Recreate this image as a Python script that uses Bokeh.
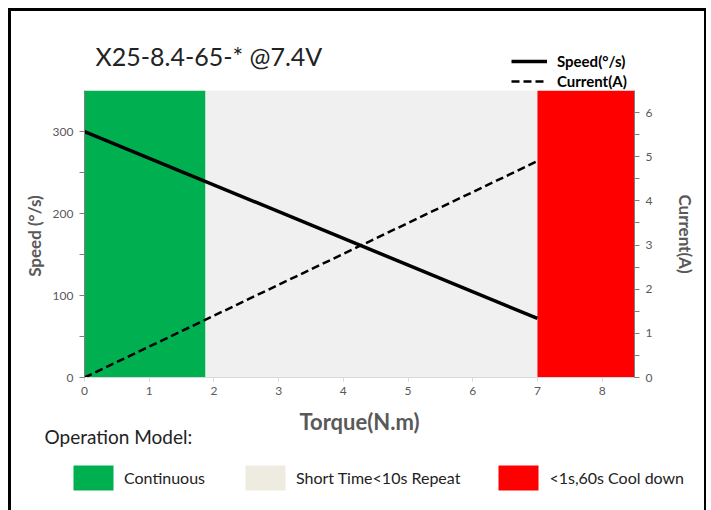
from bokeh.plotting import figure
from bokeh.layouts import column
from bokeh.models import (Range1d, LinearAxis, Legend, LegendItem, Title, Label,
                          ColumnDataSource, FixedTicker)
from bokeh.embed import file_html
from bokeh.resources import INLINE

# ---- data ----
title_text = "X25-8.4-65-* @7.4V"
torque = [0.0, 7.0]
speed = [300.0, 72.0]          # deg/s
current = [0.0, 4.9]           # A
zone_start = [0.0, 1.87, 7.0]
zone_end = [1.87, 7.0, 8.5]
zone_names = ["Continuous", "Short Time<10s Repeat", "<1s,60s Cool down"]
zone_colors = ["#00B050", "#F0F0F0", "#FF0000"]
zone_key_colors = ["#00B050", "#EEECE1", "#FF0000"]
x_ticks = [0, 1, 2, 3, 4, 5, 6, 7, 8]
speed_ticks = [0, 100, 200, 300]
current_ticks = [0, 1, 2, 3, 4, 5, 6]

FONT = "Lato"
GREY = "#595959"
AXC = "#808080"
TXT = "#222222"

zsrc = ColumnDataSource(dict(left=zone_start, right=zone_end, color=zone_colors,
                             bottom=[0, 0, 0], top=[350, 350, 350]))
ksrc = ColumnDataSource(dict(left=zone_start, right=zone_end, color=zone_key_colors,
                             bottom=[0, 0, 0], top=[350, 350, 350]))


def strip(h):
    f = figure(width=711, height=h, x_range=Range1d(100, 101), y_range=Range1d(100, 101),
               output_backend="svg", toolbar_location=None, title=None,
               x_axis_location=None, y_axis_location=None, min_border=0)
    f.frame_align = False
    f.grid.visible = False
    f.outline_line_color = None
    f.background_fill_color = None
    f.border_fill_color = None
    return f


# ---------------- top strip: title + line legend ----------------
top = strip(90)
t_speed = top.line(torque, speed, line_color="black", line_width=3.5)
t_cur = top.line(torque, current, line_color="black", line_width=2.5, line_dash="8 4")
top.add_layout(Label(x=95, y=35, x_units="screen", y_units="screen", text=title_text,
                     text_baseline="middle", text_font=FONT, text_font_size="25px",
                     text_color=TXT))
lg = Legend(items=[LegendItem(label="Speed(°/s)", renderers=[t_speed]),
                   LegendItem(label="Current(A)", renderers=[t_cur])],
            location=(511, 0), orientation="vertical",
            glyph_width=36, glyph_height=16, label_height=16, spacing=2,
            padding=0, margin=0, label_standoff=10,
            border_line_alpha=0, background_fill_alpha=0,
            label_text_font=FONT, label_text_font_style="bold",
            label_text_font_size="15px", label_text_color="black")
top.add_layout(lg, "center")

# ---------------- main chart ----------------
p = figure(width=711, height=360, x_range=Range1d(0, 8.5), y_range=Range1d(0, 350),
           output_backend="svg", toolbar_location=None, title=None,
           min_border_left=84, min_border_right=77, min_border_top=0, min_border_bottom=73)
p.frame_align = False
p.extra_y_ranges = {"cur": Range1d(0, 6.5)}
p.grid.visible = False
p.outline_line_color = None
p.background_fill_color = "white"
p.border_fill_color = None

p.quad(left="left", right="right", bottom="bottom", top="top",
       fill_color="color", line_color=None, source=zsrc)
p.line(torque, speed, line_color="black", line_width=3.5)
p.line(torque, current, line_color="black", line_width=2.5, line_dash="8 4",
       y_range_name="cur")

xa = p.xaxis[0]
xa.ticker = FixedTicker(ticks=x_ticks)
xa.axis_line_color = "#D9D9D9"
xa.major_tick_line_color = "#D9D9D9"
xa.major_tick_out = 4
xa.major_tick_in = 0
xa.minor_tick_line_color = None
xa.major_label_text_color = GREY
xa.major_label_text_font = FONT
xa.major_label_text_font_size = "12px"
xa.major_label_standoff = 5
xa.axis_label = "Torque(N.m)"
xa.axis_label_text_font = FONT
xa.axis_label_text_font_style = "bold"
xa.axis_label_text_font_size = "22px"
xa.axis_label_text_color = GREY
xa.axis_label_standoff = 10

ya = p.yaxis[0]
ya.ticker = FixedTicker(ticks=speed_ticks, minor_ticks=[50, 150, 250])
ya.axis_line_color = AXC
ya.major_tick_line_color = AXC
ya.minor_tick_line_color = AXC
ya.major_tick_out = 5
ya.major_tick_in = 0
ya.minor_tick_out = 5
ya.minor_tick_in = 0
ya.major_label_text_color = GREY
ya.major_label_text_font = FONT
ya.major_label_text_font_size = "12px"
ya.major_label_standoff = 6
ya.axis_label = "Speed  (°/s)"
ya.axis_label_text_font = FONT
ya.axis_label_text_font_style = "bold"
ya.axis_label_text_font_size = "17px"
ya.axis_label_text_color = GREY
ya.axis_label_standoff = 5

ra = LinearAxis(y_range_name="cur",
                ticker=FixedTicker(ticks=current_ticks,
                                   minor_ticks=[0.5, 1.5, 2.5, 3.5, 4.5, 5.5]))
ra.axis_line_color = AXC
ra.major_tick_line_color = AXC
ra.minor_tick_line_color = AXC
ra.major_tick_out = 5
ra.major_tick_in = 0
ra.minor_tick_out = 5
ra.minor_tick_in = 0
ra.major_label_text_color = GREY
ra.major_label_text_font = FONT
ra.major_label_text_font_size = "12px"
ra.major_label_standoff = 6
ra.axis_label = "Current(A)"
ra.axis_label_text_font = FONT
ra.axis_label_text_font_style = "bold"
ra.axis_label_text_font_size = "17px"
ra.axis_label_text_color = GREY
ra.axis_label_standoff = 20
p.add_layout(ra, "right")

p.add_layout(Title(text="Operation Model:", align="left", offset=-40, standoff=-26,
                   vertical_align="top", text_font=FONT, text_font_size="19px",
                   text_font_style="normal", text_color=TXT), "below")

# ---------------- bottom strip: operation-model legend ----------------
bot = strip(60)
b_zone = bot.quad(left="left", right="right", bottom="bottom", top="top",
                  fill_color="color", line_color=None, source=ksrc)
zl = Legend(items=[LegendItem(label=nm, renderers=[b_zone], index=i)
                   for i, nm in enumerate(zone_names)],
            location=(68, 17), orientation="horizontal",
            glyph_width=50, glyph_height=31, label_height=31, label_width=83,
            spacing=33, padding=0, margin=0, label_standoff=6,
            border_line_alpha=0, background_fill_alpha=0,
            label_text_font=FONT, label_text_font_size="16px",
            label_text_color=TXT)
bot.add_layout(zl, "center")

layout = column(top, p, bot, spacing=0)
layout.styles = {"box-shadow": ("inset 8px 0 0 0 #fff, inset 0 8px 0 0 #fff, inset -5px 0 0 0 #fff, "
                                "inset 11px 0 0 0 #000, inset 0 11px 0 0 #000, inset -7px 0 0 0 #000")}

open("out.html", "w").write(file_html(layout, INLINE))
